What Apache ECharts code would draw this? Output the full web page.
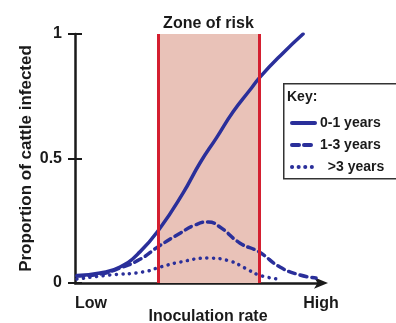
<!DOCTYPE html>
<html>
<head>
<meta charset="utf-8">
<script src="https://cdn.jsdelivr.net/npm/echarts@6/dist/echarts.min.js"></script>
<style>
  html, body { margin: 0; padding: 0; background: #fff; }
  #chart { width: 396px; height: 323px; }
</style>
</head>
<body>
<div id="chart"></div>
<script>
// x 轴: 0 = Low, 100 = High (接种率, 无单位)
const xTickLabels = ['Low', 'High'];
const yTicks = [0, 0.5, 1];

// 0-1 years
const youngX = [0.8, 10.2, 18.3, 26.4, 34.6, 43.9, 50.8, 57.7, 64.2, 71.1, 75.2, 84.6, 92.7];
const youngY = [0.03, 0.04, 0.064, 0.125, 0.221, 0.361, 0.482, 0.586, 0.687, 0.775, 0.827, 0.924, 1.0];

// 1-3 years
const midX = [0.8, 10.2, 18.3, 26.4, 33.7, 42.7, 48.8, 54.1, 58.9, 67.1, 74.8, 83.3, 91.5, 98];
const midY = [0.028, 0.036, 0.06, 0.095, 0.145, 0.2, 0.233, 0.245, 0.225, 0.16, 0.125, 0.064, 0.032, 0.02];

// >3 years
const oldX = [0.8, 14.2, 27.6, 34.6, 42.7, 54.1, 63, 69.1, 74.8, 82.5];
const oldY = [0.016, 0.032, 0.044, 0.064, 0.084, 0.1, 0.088, 0.06, 0.032, 0.016];

// zone of risk 的范围
const zoneStart = 33.7;
const zoneEnd = 74.8;

const blue = '#2a2f9a';
const red = '#d41f30';
const ink = '#1a1a1a';
const font = 'Liberation Sans, Arial, sans-serif';

const pairs = (xs, ys) => xs.map((x, i) => [x, ys[i]]);

const chart = echarts.init(document.getElementById('chart'));

const option = {
    backgroundColor: '#fff',
    animation: false,
    // v6 默认会把坐标轴名字挤进容器里, 这里关掉
    grid: { left: 75, right: 75, top: 34, bottom: 40, outerBoundsMode: 'none' },
    xAxis: {
        type: 'value', min: 0, max: 100, interval: 100,
        axisLine: {
            lineStyle: { color: ink, width: 2.5 },
            symbol: ['none', 'arrow'], symbolSize: [8.5, 14], symbolOffset: [0, 7]
        },
        axisTick: { show: false },
        splitLine: { show: false },
        axisLabel: {
            margin: 13, color: ink, fontFamily: font, fontWeight: 'bold', fontSize: 16,
            alignMinLabel: 'left', alignMaxLabel: 'center',
            formatter: v => v === 0 ? xTickLabels[0] : xTickLabels[1]
        },
        name: 'Inoculation rate', nameLocation: 'middle', nameGap: 26, nameMoveOverlap: false,
        nameTextStyle: { color: ink, fontFamily: font, fontWeight: 'bold', fontSize: 16, padding: [0, 0, 0, 20] }
    },
    yAxis: [{
        type: 'value', min: 0, max: 1, interval: 0.5, position: 'left',
        axisLine: { show: true, lineStyle: { color: ink, width: 2.5 } },
        axisTick: { show: true, length: 7, lineStyle: { color: ink, width: 2 } },
        splitLine: { show: false },
        axisLabel: {
            margin: 13, color: ink, fontFamily: font, fontWeight: 'bold', fontSize: 16,
            formatter: v => yTicks.includes(v) ? String(v) : ''
        },
        name: 'Proportion of cattle infected', nameLocation: 'middle', nameGap: 40, nameRotate: 90,
        nameMoveOverlap: false,
        nameTextStyle: { color: ink, fontFamily: font, fontWeight: 'bold', fontSize: 17 }
    }, {
        type: 'value', min: 0, max: 1, interval: 0.5, position: 'left',
        axisLine: { show: false },
        axisTick: { show: true, inside: true, length: 7, lineStyle: { color: ink, width: 2 } },
        axisLabel: { show: false },
        splitLine: { show: false }
    }],
    legend: {
        orient: 'vertical', left: 285, top: 111,
        itemWidth: 23, itemHeight: 14, itemGap: 8,
        data: ['0-1 years', '1-3 years', '>3 years'],
        itemStyle: { opacity: 0 },
        lineStyle: { width: 4 },
        formatter: n => n === '>3 years' ? '  ' + n : n,
        textStyle: { color: ink, fontFamily: font, fontWeight: 'bold', fontSize: 14 }
    },
    graphic: [{
        type: 'rect', left: 283, top: 83, z: 0,
        shape: { width: 130, height: 95 },
        style: { fill: '#fff', stroke: '#333', lineWidth: 1.5 }
    }, {
        type: 'text', left: 287, top: 90, z: 1,
        style: { text: 'Key:', fill: ink, font: 'bold 14px ' + font }
    }],
    series: [{
        name: 'zone', type: 'line', data: [], z: 1,
        markArea: {
            silent: true,
            itemStyle: { color: '#e9c2b8' },
            label: {
                show: true, position: 'top', distance: 2,
                color: ink, fontFamily: font, fontWeight: 'bold', fontSize: 16
            },
            data: [[{ name: 'Zone of risk', xAxis: zoneStart, yAxis: 0 }, { xAxis: zoneEnd, yAxis: 1 }]]
        },
        markLine: {
            silent: true, symbol: 'none',
            label: { show: false },
            lineStyle: { color: red, width: 3, type: 'solid' },
            data: [{ xAxis: zoneStart }, { xAxis: zoneEnd }]
        }
    }, {
        name: '0-1 years', type: 'line', smooth: true, symbol: 'none', z: 3,
        data: pairs(youngX, youngY),
        itemStyle: { color: blue },
        lineStyle: { color: blue, width: 3.5, cap: 'round' }
    }, {
        name: '1-3 years', type: 'line', smooth: true, symbol: 'none', z: 3,
        data: pairs(midX, midY),
        itemStyle: { color: blue },
        lineStyle: { color: blue, width: 3.5, type: [7, 5], cap: 'round' }
    }, {
        name: '>3 years', type: 'line', smooth: true, symbol: 'none', z: 3,
        data: pairs(oldX, oldY),
        itemStyle: { color: blue },
        lineStyle: { color: blue, width: 3.5, type: [0.1, 6.5], cap: 'round' }
    }]
};

chart.setOption(option);

window.addEventListener('resize', () => chart.resize());
</script>
</body>
</html>
